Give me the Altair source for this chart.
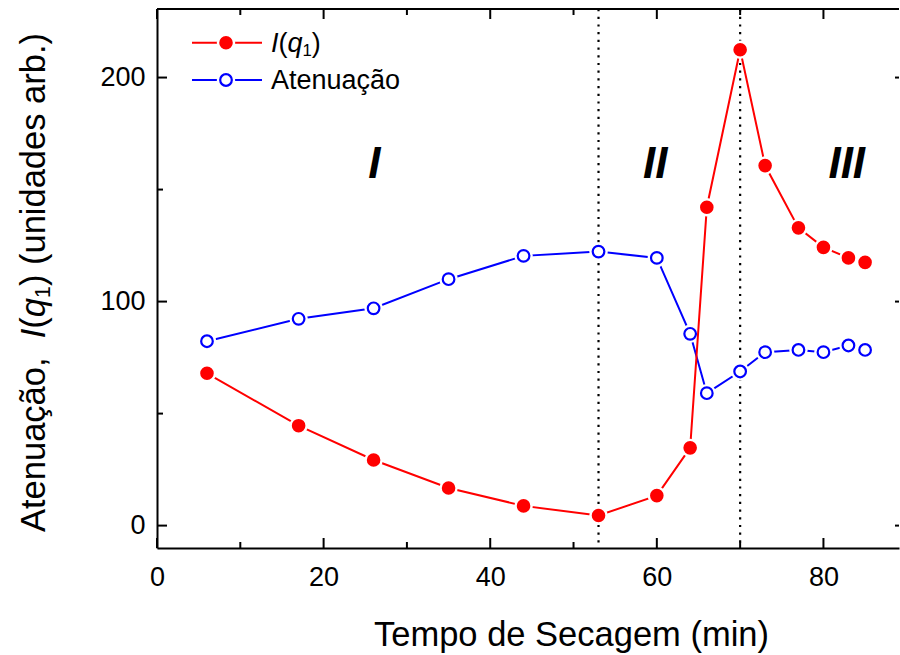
import altair as alt
import pandas as pd

# ---------------- data ----------------
time_min = [6, 17, 26, 35, 44, 53, 60, 64, 66, 70, 73, 77, 80, 83, 85]
i_q1 = [68.0, 44.6, 29.3, 16.8, 8.8, 4.5, 13.4, 34.7, 142.1, 212.4, 160.7, 132.9, 124.2, 119.5, 117.5]
atenuacao = [82.3, 92.3, 97.0, 110.0, 120.4, 122.3, 119.5, 85.6, 59.1, 68.8, 77.4, 78.4, 77.4, 80.4, 78.4]

x_major = [0, 20, 40, 60, 80]
x_minor = [10, 30, 50, 70]
y_major = [0, 100, 200]
y_minor = [50, 150]
boundaries = [53, 70]
region_labels = ["I", "II", "III"]
region_x = [26.1, 59.8, 82.8]
region_y = [155, 155, 155]

# ---------------- layout / style ----------------
W, H = 742, 539
X_DOMAIN = [0, 89.07]
Y_DOMAIN = [-10, 230.6]
FONT = "Liberation Sans, Arial, Helvetica, sans-serif"
RED = "#ff0000"
BLUE = "#0000ff"

x_scale = alt.Scale(domain=X_DOMAIN, nice=False, zero=False)
y_scale = alt.Scale(domain=Y_DOMAIN, nice=False, zero=False)

x_axis = alt.Axis(values=x_major, title="Tempo de Secagem (min)", ticks=False, grid=False,
                  domainColor="black", domainWidth=2, labelFont=FONT, labelFontSize=27,
                  labelColor="black", labelPadding=16, labelFlush=False, format="d",
                  titleFont=FONT, titleFontSize=34.5, titleFontWeight="normal", titleColor="black",
                  titleX=414, titleY=97, titleBaseline="alphabetic")
y_axis = alt.Axis(values=y_major, title="", ticks=False, grid=False,
                  domainColor="black", domainWidth=2, labelFont=FONT, labelFontSize=27,
                  labelColor="black", labelPadding=12, labelFlush=False, format="d")

df = pd.DataFrame({"t": time_min, "iq": i_q1, "at": atenuacao})
one = pd.DataFrame({"k": [0]})

X = alt.X("t:Q", scale=x_scale, axis=x_axis)

RED_SIZE = 185
BLUE_SIZE = 135
HALO = 340

layers = []

# dotted boundaries
layers.append(
    alt.Chart(pd.DataFrame({"b": boundaries})).mark_rule(color="black", strokeWidth=2.2, strokeDash=[2.2, 5.5])
    .encode(x=alt.X("b:Q", scale=x_scale, axis=x_axis))
)

# blue series
layers.append(alt.Chart(df).mark_line(color=BLUE, strokeWidth=2).encode(
    x=X, y=alt.Y("at:Q", scale=y_scale, axis=y_axis)))
layers.append(alt.Chart(df).mark_circle(color="white", size=HALO, opacity=1).encode(
    x=X, y=alt.Y("at:Q", scale=y_scale, axis=y_axis)))
layers.append(alt.Chart(df).mark_point(shape="circle", filled=True, fill="white", stroke=BLUE,
                                       strokeWidth=2.2, size=BLUE_SIZE, opacity=1, fillOpacity=1).encode(
    x=X, y=alt.Y("at:Q", scale=y_scale, axis=y_axis)))

# red series
layers.append(alt.Chart(df).mark_line(color=RED, strokeWidth=2).encode(
    x=X, y=alt.Y("iq:Q", scale=y_scale, axis=y_axis)))
layers.append(alt.Chart(df).mark_circle(color="white", size=HALO, opacity=1).encode(
    x=X, y=alt.Y("iq:Q", scale=y_scale, axis=y_axis)))
layers.append(alt.Chart(df).mark_circle(color=RED, size=RED_SIZE, opacity=1).encode(
    x=X, y=alt.Y("iq:Q", scale=y_scale, axis=y_axis)))

# region labels
layers.append(
    alt.Chart(pd.DataFrame({"lab": region_labels, "rx": region_x, "ry": region_y}))
    .mark_text(font=FONT, fontSize=44, fontStyle="italic", fontWeight="bold", align="center",
               baseline="alphabetic", color="black")
    .encode(x=alt.X("rx:Q", scale=x_scale, axis=x_axis),
            y=alt.Y("ry:Q", scale=y_scale, axis=y_axis), text="lab:N")
)

# frame: top line and inward ticks
layers.append(alt.Chart(one).mark_rule(color="black", strokeWidth=2).encode(
    x=alt.value(0), x2=alt.value(W), y=alt.value(0)))
for vals, length in ((x_major, 10), (x_minor, 6)):
    d = pd.DataFrame({"v": vals})
    layers.append(alt.Chart(d).mark_rule(color="black", strokeWidth=2).encode(
        x=alt.X("v:Q", scale=x_scale, axis=x_axis), y=alt.value(H), y2=alt.value(H - length)))
    layers.append(alt.Chart(d).mark_rule(color="black", strokeWidth=2).encode(
        x=alt.X("v:Q", scale=x_scale, axis=x_axis), y=alt.value(0), y2=alt.value(length)))
for vals, length in ((y_major, 10), (y_minor, 6)):
    d = pd.DataFrame({"v": vals})
    layers.append(alt.Chart(d).mark_rule(color="black", strokeWidth=2).encode(
        y=alt.Y("v:Q", scale=y_scale, axis=y_axis), x=alt.value(0), x2=alt.value(length)))
layers.append(alt.Chart(pd.DataFrame({"v": y_major})).mark_rule(color="black", strokeWidth=2).encode(
    y=alt.Y("v:Q", scale=y_scale, axis=y_axis), x=alt.value(W - 4), x2=alt.value(W)))


def seg(text, x, y, size, style="normal", angle=0):
    return alt.Chart(one).mark_text(text=text, font=FONT, fontSize=size, fontStyle=style,
                                    align="left", baseline="alphabetic", angle=angle,
                                    color="black").encode(x=alt.value(x), y=alt.value(y))


# glyph advance widths (Arial metrics, per 1000 em)
ADV = {' ': 278, 'A': 667, 't': 278, 'e': 556, 'n': 556, 'u': 556, 'a': 556, 'ç': 500,
       'ã': 556, 'o': 556, ',': 278, '(': 333, ')': 333, 'i': 222, 'd': 556, 's': 500, 'r': 333,
       'b': 556, '.': 278, '1': 556, 'I': 278, 'q': 556}


def adv(text, size):
    return sum(ADV.get(c, 556) for c in text) / 1000 * size


def rich(parts, size):
    """parts: (text, style, scale, drop, gap_after_in_em)"""
    out = []
    for text, style, sc, drop, gap in parts:
        out.append((text, style, size * sc, drop * size, adv(text, size * sc) + gap * size))
    return out


title_parts = rich([("Atenuação,", "normal", 1, 0, 0.556), ("I", "italic", 1, 0, 0),
                    ("(", "normal", 1, 0, 0), ("q", "italic", 1, 0, 0),
                    ("1", "normal", 0.62, 0.15, 0), (")", "normal", 1, 0, 0.278),
                    ("(unidades arb.)", "normal", 1, 0, 0)], 34.5)
total = sum(p[4] for p in title_parts)
ty = H / 2 + 4 + total / 2
tx = 45 - 157
for text, style, fs, drop, w in title_parts:
    layers.append(seg(text, tx + drop, ty, fs, style, angle=270))
    ty -= w

# legend
LEG = [(33.7, 43.0, RED), (71.0, 80.3, BLUE)]
for i, (ly, base, col) in enumerate(LEG):
    layers.append(alt.Chart(one).mark_rule(color=col, strokeWidth=2).encode(
        x=alt.value(35), x2=alt.value(105), y=alt.value(ly)))
    layers.append(alt.Chart(one).mark_circle(color="white", size=HALO, opacity=1).encode(
        x=alt.value(69), y=alt.value(ly)))
    if i == 0:
        layers.append(alt.Chart(one).mark_circle(color=RED, size=RED_SIZE, opacity=1).encode(
            x=alt.value(69), y=alt.value(ly)))
    else:
        layers.append(alt.Chart(one).mark_point(shape="circle", filled=True, fill="white", stroke=BLUE,
                                                strokeWidth=2.2, size=BLUE_SIZE, opacity=1, fillOpacity=1)
                      .encode(x=alt.value(69), y=alt.value(ly)))

lx = 114
for text, style, fs, drop, w in rich([("I", "italic", 1, 0, 0), ("(", "normal", 1, 0, 0),
                                      ("q", "italic", 1, 0, 0), ("1", "normal", 0.62, 0.15, 0),
                                      (")", "normal", 1, 0, 0)], 27):
    layers.append(seg(text, lx, 43.0 + drop, fs, style))
    lx += w
layers.append(seg("Atenuação", 114, 80.3, 27))

chart = alt.layer(*layers).properties(
    width=W, height=H,
    autosize=alt.AutoSizeParams(type="none"),
    padding={"left": 157, "top": 9, "right": 1, "bottom": 107},
).configure_view(stroke=None)

chart.save("out.html", embed_options={"renderer": "svg", "actions": False})
